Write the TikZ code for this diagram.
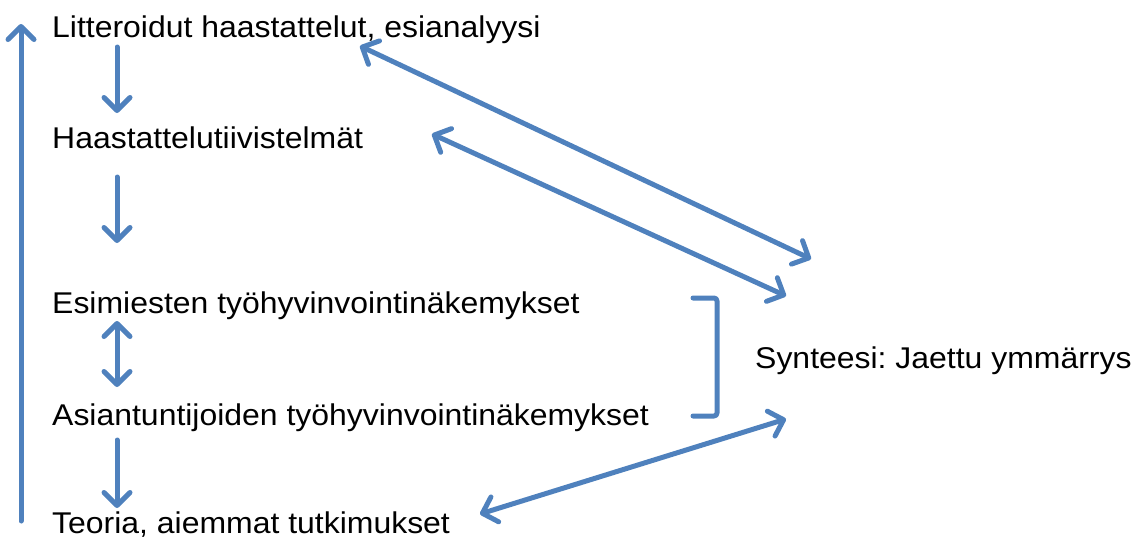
\documentclass[tikz,border=0pt]{standalone}
\usepackage{fontspec}
\setmainfont[FakeStretch=1.065]{Liberation Sans}
\usetikzlibrary{arrows.meta}
\definecolor{arrowblue}{HTML}{4F81BD}
\frenchspacing
\begin{document}
\begin{tikzpicture}[x=1pt,y=-1pt,
  lbl/.style={anchor=base west,inner sep=0pt,font=\fontsize{30}{34}\selectfont},
  conn/.style={draw=arrowblue,line width=5pt,line cap=round,line join=round},
  barb/.tip={Straight Barb[length=13pt,width=26pt,line cap=round,line join=round]},
  tip/.style={-barb},
  bitip/.style={barb-barb}]
\useasboundingbox (0,0) rectangle (1141,538);
\node[lbl] (lit) at (52,37) {Litteroidut haastattelut, esianalyysi};
\node[lbl] (haa) at (52,148) {Haastattelutiivistelmät};
\node[lbl] (esi) at (52,313) {Esimiesten työhyvinvointinäkemykset};
\node[lbl] (asi) at (52,425) {Asiantuntijoiden työhyvinvointinäkemykset};
\node[lbl] (teo) at (52,533) {Teoria, aiemmat tutkimukset};
\node[lbl] (syn) at (755,368) {Synteesi: Jaettu ymmärrys};
% endpoints
\coordinate (loopB) at (21,521);
\coordinate (loopT) at (21,24);
\coordinate (a1s) at (117,47);
\coordinate (a1e) at (117,113);
\coordinate (a2s) at (117,177);
\coordinate (a2e) at (117,243);
\coordinate (a3s) at (117,321);
\coordinate (a3e) at (117,387);
\coordinate (a4s) at (117,440);
\coordinate (a4e) at (117,508);
\coordinate (litR) at (360,46);
\coordinate (synA) at (811,259);
\coordinate (haaR) at (432,134);
\coordinate (synB) at (786,296);
\coordinate (teoR) at (480,514);
\coordinate (synC) at (786,419);
\coordinate (brTop) at (693,298);
\coordinate (brBot) at (693,416);
% connectors
\draw[conn,tip] (loopB) -- (loopT);
\draw[conn,tip] (a1s) -- (a1e);
\draw[conn,tip] (a2s) -- (a2e);
\draw[conn,bitip] (a3s) -- (a3e);
\draw[conn,tip] (a4s) -- (a4e);
\draw[conn,bitip] (litR) -- (synA);
\draw[conn,bitip] (haaR) -- (synB);
\draw[conn,bitip] (teoR) -- (synC);
\draw[conn,rounded corners=3pt] (brTop) -- (717,298) -- (717,416) -- (brBot);
\end{tikzpicture}
\end{document}
